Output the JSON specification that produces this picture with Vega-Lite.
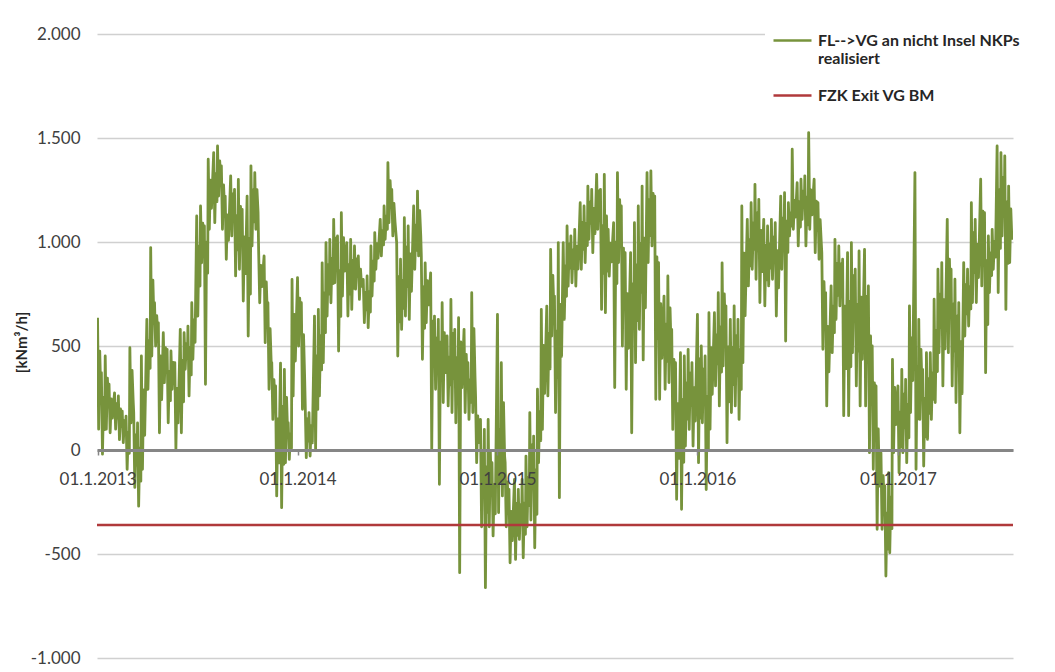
{
  "$schema": "https://vega.github.io/schema/vega-lite/v6.json",
  "width": 916,
  "height": 624,
  "autosize": {"type": "none"},
  "padding": {"left": 97, "top": 34, "right": 42, "bottom": 14},
  "background": "white",
  "datasets": {
    "flow": [
      {"d":"2013-01-01","v":636},{"d":"2013-01-03","v":100},{"d":"2013-01-05","v":475},{"d":"2013-01-07","v":261},{"d":"2013-01-08","v":372},{"d":"2013-01-10","v":-20},{"d":"2013-01-12","v":254},{"d":"2013-01-14","v":98},{"d":"2013-01-15","v":452},{"d":"2013-01-17","v":100},{"d":"2013-01-19","v":346},{"d":"2013-01-21","v":206},{"d":"2013-01-22","v":316},{"d":"2013-01-24","v":83},{"d":"2013-01-26","v":246},{"d":"2013-01-28","v":153},
      {"d":"2013-02-01","v":275},{"d":"2013-02-03","v":100},{"d":"2013-02-05","v":223},{"d":"2013-02-07","v":153},{"d":"2013-02-08","v":260},{"d":"2013-02-10","v":50},{"d":"2013-02-12","v":197},{"d":"2013-02-14","v":113},{"d":"2013-02-15","v":187},{"d":"2013-02-17","v":35},{"d":"2013-02-19","v":141},{"d":"2013-02-21","v":81},{"d":"2013-02-22","v":163},{"d":"2013-02-24","v":-93},{"d":"2013-02-26","v":86},{"d":"2013-02-28","v":-16},
      {"d":"2013-03-01","v":492},{"d":"2013-03-03","v":130},{"d":"2013-03-05","v":383},{"d":"2013-03-07","v":239},{"d":"2013-03-08","v":180},{"d":"2013-03-10","v":-180},{"d":"2013-03-12","v":72},{"d":"2013-03-14","v":-72},{"d":"2013-03-15","v":130},{"d":"2013-03-17","v":-270},{"d":"2013-03-19","v":10},{"d":"2013-03-21","v":-150},{"d":"2013-03-22","v":452},{"d":"2013-03-24","v":-93},{"d":"2013-03-26","v":289},{"d":"2013-03-28","v":71},
      {"d":"2013-04-01","v":628},{"d":"2013-04-03","v":292},{"d":"2013-04-05","v":527},{"d":"2013-04-07","v":393},{"d":"2013-04-08","v":973},{"d":"2013-04-10","v":452},{"d":"2013-04-12","v":817},{"d":"2013-04-14","v":608},{"d":"2013-04-15","v":708},{"d":"2013-04-17","v":500},{"d":"2013-04-19","v":646},{"d":"2013-04-21","v":562},{"d":"2013-04-22","v":612},{"d":"2013-04-24","v":83},{"d":"2013-04-26","v":453},{"d":"2013-04-28","v":242},
      {"d":"2013-05-01","v":564},{"d":"2013-05-03","v":324},{"d":"2013-05-05","v":492},{"d":"2013-05-07","v":396},{"d":"2013-05-08","v":484},{"d":"2013-05-10","v":131},{"d":"2013-05-12","v":378},{"d":"2013-05-14","v":237},{"d":"2013-05-15","v":476},{"d":"2013-05-17","v":292},{"d":"2013-05-19","v":421},{"d":"2013-05-21","v":347},{"d":"2013-05-22","v":420},{"d":"2013-05-24","v":6},{"d":"2013-05-26","v":296},{"d":"2013-05-28","v":130},
      {"d":"2013-06-01","v":580},{"d":"2013-06-03","v":83},{"d":"2013-06-05","v":431},{"d":"2013-06-07","v":232},{"d":"2013-06-08","v":564},{"d":"2013-06-10","v":388},{"d":"2013-06-12","v":511},{"d":"2013-06-14","v":441},{"d":"2013-06-15","v":596},{"d":"2013-06-17","v":260},{"d":"2013-06-19","v":495},{"d":"2013-06-21","v":361},{"d":"2013-06-22","v":708},{"d":"2013-06-24","v":436},{"d":"2013-06-26","v":626},{"d":"2013-06-28","v":518},
      {"d":"2013-07-01","v":1125},{"d":"2013-07-03","v":644},{"d":"2013-07-05","v":981},{"d":"2013-07-07","v":788},{"d":"2013-07-08","v":1173},{"d":"2013-07-10","v":900},{"d":"2013-07-12","v":1091},{"d":"2013-07-14","v":982},{"d":"2013-07-15","v":1077},{"d":"2013-07-17","v":316},{"d":"2013-07-19","v":1000},{"d":"2013-07-21","v":850},{"d":"2013-07-22","v":1398},{"d":"2013-07-24","v":1061},{"d":"2013-07-26","v":1297},{"d":"2013-07-28","v":1162},
      {"d":"2013-08-01","v":1430},{"d":"2013-08-03","v":1093},{"d":"2013-08-05","v":1329},{"d":"2013-08-07","v":1194},{"d":"2013-08-08","v":1462},{"d":"2013-08-10","v":1221},{"d":"2013-08-12","v":1390},{"d":"2013-08-14","v":1293},{"d":"2013-08-15","v":1366},{"d":"2013-08-17","v":1061},{"d":"2013-08-19","v":1275},{"d":"2013-08-21","v":1153},{"d":"2013-08-22","v":1221},{"d":"2013-08-24","v":917},{"d":"2013-08-26","v":1130},{"d":"2013-08-28","v":1008},
      {"d":"2013-09-01","v":1318},{"d":"2013-09-03","v":1029},{"d":"2013-09-05","v":1231},{"d":"2013-09-07","v":1116},{"d":"2013-09-08","v":1253},{"d":"2013-09-10","v":837},{"d":"2013-09-12","v":1128},{"d":"2013-09-14","v":962},{"d":"2013-09-15","v":1301},{"d":"2013-09-17","v":869},{"d":"2013-09-19","v":1171},{"d":"2013-09-21","v":999},{"d":"2013-09-22","v":1157},{"d":"2013-09-24","v":716},{"d":"2013-09-26","v":1025},{"d":"2013-09-28","v":848},
      {"d":"2013-10-01","v":1221},{"d":"2013-10-03","v":548},{"d":"2013-10-05","v":1019},{"d":"2013-10-07","v":750},{"d":"2013-10-08","v":1366},{"d":"2013-10-10","v":981},{"d":"2013-10-12","v":1250},{"d":"2013-10-14","v":1097},{"d":"2013-10-15","v":1334},{"d":"2013-10-17","v":1061},{"d":"2013-10-19","v":1252},{"d":"2013-10-21","v":1143},{"d":"2013-10-22","v":965},{"d":"2013-10-24","v":708},{"d":"2013-10-26","v":888},{"d":"2013-10-28","v":785},
      {"d":"2013-11-01","v":933},{"d":"2013-11-03","v":516},{"d":"2013-11-05","v":808},{"d":"2013-11-07","v":641},{"d":"2013-11-08","v":708},{"d":"2013-11-10","v":292},{"d":"2013-11-12","v":583},{"d":"2013-11-14","v":417},{"d":"2013-11-15","v":420},{"d":"2013-11-17","v":147},{"d":"2013-11-19","v":338},{"d":"2013-11-21","v":229},{"d":"2013-11-22","v":308},{"d":"2013-11-24","v":-221},{"d":"2013-11-26","v":149},{"d":"2013-11-28","v":-62},
      {"d":"2013-12-01","v":418},{"d":"2013-12-03","v":-277},{"d":"2013-12-05","v":210},{"d":"2013-12-07","v":-69},{"d":"2013-12-08","v":388},{"d":"2013-12-10","v":-61},{"d":"2013-12-12","v":253},{"d":"2013-12-14","v":74},{"d":"2013-12-15","v":131},{"d":"2013-12-17","v":-45},{"d":"2013-12-19","v":78},{"d":"2013-12-21","v":8},{"d":"2013-12-22","v":820},{"d":"2013-12-24","v":260},{"d":"2013-12-26","v":652},{"d":"2013-12-28","v":428},
      {"d":"2014-01-01","v":829},{"d":"2014-01-03","v":500},{"d":"2014-01-05","v":730},{"d":"2014-01-07","v":599},{"d":"2014-01-08","v":708},{"d":"2014-01-10","v":196},{"d":"2014-01-12","v":554},{"d":"2014-01-14","v":350},{"d":"2014-01-15","v":228},{"d":"2014-01-17","v":-37},{"d":"2014-01-19","v":149},{"d":"2014-01-21","v":43},{"d":"2014-01-22","v":180},{"d":"2014-01-24","v":-29},{"d":"2014-01-26","v":117},{"d":"2014-01-28","v":34},
      {"d":"2014-02-01","v":644},{"d":"2014-02-03","v":3},{"d":"2014-02-05","v":452},{"d":"2014-02-07","v":195},{"d":"2014-02-08","v":676},{"d":"2014-02-10","v":260},{"d":"2014-02-12","v":551},{"d":"2014-02-14","v":385},{"d":"2014-02-15","v":900},{"d":"2014-02-17","v":420},{"d":"2014-02-19","v":756},{"d":"2014-02-21","v":564},{"d":"2014-02-22","v":997},{"d":"2014-02-24","v":644},{"d":"2014-02-26","v":891},{"d":"2014-02-28","v":750},
      {"d":"2014-03-01","v":1013},{"d":"2014-03-03","v":708},{"d":"2014-03-05","v":922},{"d":"2014-03-07","v":800},{"d":"2014-03-08","v":1109},{"d":"2014-03-10","v":804},{"d":"2014-03-12","v":1018},{"d":"2014-03-14","v":896},{"d":"2014-03-15","v":1029},{"d":"2014-03-17","v":476},{"d":"2014-03-19","v":863},{"d":"2014-03-21","v":642},{"d":"2014-03-22","v":1141},{"d":"2014-03-24","v":740},{"d":"2014-03-26","v":1021},{"d":"2014-03-28","v":860},
      {"d":"2014-04-01","v":997},{"d":"2014-04-03","v":644},{"d":"2014-04-05","v":891},{"d":"2014-04-07","v":750},{"d":"2014-04-08","v":1013},{"d":"2014-04-10","v":676},{"d":"2014-04-12","v":912},{"d":"2014-04-14","v":777},{"d":"2014-04-15","v":981},{"d":"2014-04-17","v":773},{"d":"2014-04-19","v":919},{"d":"2014-04-21","v":835},{"d":"2014-04-22","v":933},{"d":"2014-04-24","v":724},{"d":"2014-04-26","v":870},{"d":"2014-04-28","v":787},
      {"d":"2014-05-01","v":820},{"d":"2014-05-03","v":612},{"d":"2014-05-05","v":758},{"d":"2014-05-07","v":674},{"d":"2014-05-08","v":837},{"d":"2014-05-10","v":588},{"d":"2014-05-12","v":762},{"d":"2014-05-14","v":663},{"d":"2014-05-15","v":981},{"d":"2014-05-17","v":740},{"d":"2014-05-19","v":909},{"d":"2014-05-21","v":812},{"d":"2014-05-22","v":1045},{"d":"2014-05-24","v":869},{"d":"2014-05-26","v":992},{"d":"2014-05-28","v":922},
      {"d":"2014-06-01","v":1109},{"d":"2014-06-03","v":933},{"d":"2014-06-05","v":1056},{"d":"2014-06-07","v":986},{"d":"2014-06-08","v":1173},{"d":"2014-06-10","v":1013},{"d":"2014-06-12","v":1125},{"d":"2014-06-14","v":1061},{"d":"2014-06-15","v":1382},{"d":"2014-06-17","v":1093},{"d":"2014-06-19","v":1295},{"d":"2014-06-21","v":1180},{"d":"2014-06-22","v":1253},{"d":"2014-06-24","v":1029},{"d":"2014-06-26","v":1186},{"d":"2014-06-28","v":1096},
      {"d":"2014-07-01","v":997},{"d":"2014-07-03","v":452},{"d":"2014-07-05","v":834},{"d":"2014-07-07","v":616},{"d":"2014-07-08","v":917},{"d":"2014-07-10","v":580},{"d":"2014-07-12","v":816},{"d":"2014-07-14","v":681},{"d":"2014-07-15","v":1117},{"d":"2014-07-17","v":644},{"d":"2014-07-19","v":975},{"d":"2014-07-21","v":786},{"d":"2014-07-22","v":1077},{"d":"2014-07-24","v":628},{"d":"2014-07-26","v":943},{"d":"2014-07-28","v":763},
      {"d":"2014-08-01","v":1173},{"d":"2014-08-03","v":869},{"d":"2014-08-05","v":1082},{"d":"2014-08-07","v":960},{"d":"2014-08-08","v":1245},{"d":"2014-08-10","v":933},{"d":"2014-08-12","v":1151},{"d":"2014-08-14","v":1027},{"d":"2014-08-15","v":933},{"d":"2014-08-17","v":436},{"d":"2014-08-19","v":784},{"d":"2014-08-21","v":585},{"d":"2014-08-22","v":900},{"d":"2014-08-24","v":612},{"d":"2014-08-26","v":814},{"d":"2014-08-28","v":698},
      {"d":"2014-09-01","v":852},{"d":"2014-09-03","v":3},{"d":"2014-09-05","v":620},{"d":"2014-09-07","v":420},{"d":"2014-09-08","v":644},{"d":"2014-09-10","v":292},{"d":"2014-09-12","v":538},{"d":"2014-09-14","v":398},{"d":"2014-09-15","v":628},{"d":"2014-09-17","v":-165},{"d":"2014-09-19","v":520},{"d":"2014-09-21","v":350},{"d":"2014-09-22","v":708},{"d":"2014-09-24","v":228},{"d":"2014-09-26","v":564},{"d":"2014-09-28","v":372},
      {"d":"2014-10-01","v":548},{"d":"2014-10-03","v":212},{"d":"2014-10-05","v":447},{"d":"2014-10-07","v":313},{"d":"2014-10-08","v":724},{"d":"2014-10-10","v":180},{"d":"2014-10-12","v":561},{"d":"2014-10-14","v":343},{"d":"2014-10-15","v":580},{"d":"2014-10-17","v":131},{"d":"2014-10-19","v":445},{"d":"2014-10-21","v":266},{"d":"2014-10-22","v":636},{"d":"2014-10-24","v":-590},{"d":"2014-10-26","v":520},{"d":"2014-10-28","v":300},
      {"d":"2014-11-01","v":580},{"d":"2014-11-03","v":180},{"d":"2014-11-05","v":460},{"d":"2014-11-07","v":300},{"d":"2014-11-08","v":420},{"d":"2014-11-10","v":147},{"d":"2014-11-12","v":338},{"d":"2014-11-14","v":229},{"d":"2014-11-15","v":756},{"d":"2014-11-17","v":180},{"d":"2014-11-19","v":583},{"d":"2014-11-21","v":353},{"d":"2014-11-22","v":260},{"d":"2014-11-24","v":-61},{"d":"2014-11-26","v":164},{"d":"2014-11-28","v":35},
      {"d":"2014-12-01","v":147},{"d":"2014-12-03","v":-369},{"d":"2014-12-05","v":-8},{"d":"2014-12-07","v":-214},{"d":"2014-12-08","v":99},{"d":"2014-12-10","v":-662},{"d":"2014-12-12","v":-80},{"d":"2014-12-14","v":-300},{"d":"2014-12-15","v":147},{"d":"2014-12-17","v":-369},{"d":"2014-12-19","v":-8},{"d":"2014-12-21","v":-214},{"d":"2014-12-22","v":-61},{"d":"2014-12-24","v":-413},{"d":"2014-12-26","v":-167},{"d":"2014-12-28","v":-307},
      {"d":"2015-01-01","v":652},{"d":"2015-01-03","v":-301},{"d":"2015-01-05","v":100},{"d":"2015-01-07","v":-150},{"d":"2015-01-08","v":420},{"d":"2015-01-10","v":-221},{"d":"2015-01-12","v":228},{"d":"2015-01-14","v":-29},{"d":"2015-01-15","v":-61},{"d":"2015-01-17","v":-369},{"d":"2015-01-19","v":-153},{"d":"2015-01-21","v":-277},{"d":"2015-01-22","v":-189},{"d":"2015-01-24","v":-542},{"d":"2015-01-26","v":-295},{"d":"2015-01-28","v":-436},
      {"d":"2015-02-01","v":-141},{"d":"2015-02-03","v":-526},{"d":"2015-02-05","v":-257},{"d":"2015-02-07","v":-410},{"d":"2015-02-08","v":-189},{"d":"2015-02-10","v":-430},{"d":"2015-02-12","v":-261},{"d":"2015-02-14","v":-358},{"d":"2015-02-15","v":-141},{"d":"2015-02-17","v":-518},{"d":"2015-02-19","v":-254},{"d":"2015-02-21","v":-405},{"d":"2015-02-22","v":-29},{"d":"2015-02-24","v":-369},{"d":"2015-02-26","v":-131},{"d":"2015-02-28","v":-267},
      {"d":"2015-03-01","v":180},{"d":"2015-03-03","v":-337},{"d":"2015-03-05","v":25},{"d":"2015-03-07","v":-182},{"d":"2015-03-08","v":67},{"d":"2015-03-10","v":-470},{"d":"2015-03-12","v":-94},{"d":"2015-03-14","v":-309},{"d":"2015-03-15","v":292},{"d":"2015-03-17","v":-61},{"d":"2015-03-19","v":186},{"d":"2015-03-21","v":45},{"d":"2015-03-22","v":676},{"d":"2015-03-24","v":99},{"d":"2015-03-26","v":503},{"d":"2015-03-28","v":272},
      {"d":"2015-04-01","v":692},{"d":"2015-04-03","v":260},{"d":"2015-04-05","v":562},{"d":"2015-04-07","v":390},{"d":"2015-04-08","v":965},{"d":"2015-04-10","v":548},{"d":"2015-04-12","v":840},{"d":"2015-04-14","v":673},{"d":"2015-04-15","v":740},{"d":"2015-04-17","v":180},{"d":"2015-04-19","v":572},{"d":"2015-04-21","v":348},{"d":"2015-04-22","v":997},{"d":"2015-04-24","v":-229},{"d":"2015-04-26","v":700},{"d":"2015-04-28","v":450},
      {"d":"2015-05-01","v":997},{"d":"2015-05-03","v":628},{"d":"2015-05-05","v":886},{"d":"2015-05-07","v":739},{"d":"2015-05-08","v":1077},{"d":"2015-05-10","v":788},{"d":"2015-05-12","v":990},{"d":"2015-05-14","v":875},{"d":"2015-05-15","v":1029},{"d":"2015-05-17","v":804},{"d":"2015-05-19","v":962},{"d":"2015-05-21","v":872},{"d":"2015-05-22","v":1061},{"d":"2015-05-24","v":788},{"d":"2015-05-26","v":979},{"d":"2015-05-28","v":870},
      {"d":"2015-06-01","v":1189},{"d":"2015-06-03","v":869},{"d":"2015-06-05","v":1093},{"d":"2015-06-07","v":965},{"d":"2015-06-08","v":1173},{"d":"2015-06-10","v":901},{"d":"2015-06-12","v":1091},{"d":"2015-06-14","v":983},{"d":"2015-06-15","v":1269},{"d":"2015-06-17","v":1013},{"d":"2015-06-19","v":1192},{"d":"2015-06-21","v":1090},{"d":"2015-06-22","v":1253},{"d":"2015-06-24","v":949},{"d":"2015-06-26","v":1162},{"d":"2015-06-28","v":1040},
      {"d":"2015-07-01","v":1325},{"d":"2015-07-03","v":1061},{"d":"2015-07-05","v":1246},{"d":"2015-07-07","v":1140},{"d":"2015-07-08","v":1253},{"d":"2015-07-10","v":676},{"d":"2015-07-12","v":1080},{"d":"2015-07-14","v":849},{"d":"2015-07-15","v":1325},{"d":"2015-07-17","v":660},{"d":"2015-07-19","v":1125},{"d":"2015-07-21","v":860},{"d":"2015-07-22","v":1061},{"d":"2015-07-24","v":836},{"d":"2015-07-26","v":994},{"d":"2015-07-28","v":904},
      {"d":"2015-08-01","v":1093},{"d":"2015-08-03","v":300},{"d":"2015-08-05","v":1000},{"d":"2015-08-07","v":800},{"d":"2015-08-08","v":1334},{"d":"2015-08-10","v":901},{"d":"2015-08-12","v":1204},{"d":"2015-08-14","v":1031},{"d":"2015-08-15","v":1173},{"d":"2015-08-17","v":500},{"d":"2015-08-19","v":971},{"d":"2015-08-21","v":702},{"d":"2015-08-22","v":949},{"d":"2015-08-24","v":292},{"d":"2015-08-26","v":752},{"d":"2015-08-28","v":489},
      {"d":"2015-09-01","v":949},{"d":"2015-09-03","v":83},{"d":"2015-09-05","v":800},{"d":"2015-09-07","v":600},{"d":"2015-09-08","v":1093},{"d":"2015-09-10","v":420},{"d":"2015-09-12","v":891},{"d":"2015-09-14","v":622},{"d":"2015-09-15","v":1173},{"d":"2015-09-17","v":580},{"d":"2015-09-19","v":995},{"d":"2015-09-21","v":758},{"d":"2015-09-22","v":1269},{"d":"2015-09-24","v":433},{"d":"2015-09-26","v":1018},{"d":"2015-09-28","v":684},
      {"d":"2015-10-01","v":1334},{"d":"2015-10-03","v":901},{"d":"2015-10-05","v":1204},{"d":"2015-10-07","v":1031},{"d":"2015-10-08","v":1342},{"d":"2015-10-10","v":981},{"d":"2015-10-12","v":1234},{"d":"2015-10-14","v":1089},{"d":"2015-10-15","v":1221},{"d":"2015-10-17","v":244},{"d":"2015-10-19","v":928},{"d":"2015-10-21","v":537},{"d":"2015-10-22","v":901},{"d":"2015-10-24","v":244},{"d":"2015-10-26","v":704},{"d":"2015-10-28","v":441},
      {"d":"2015-11-01","v":740},{"d":"2015-11-03","v":292},{"d":"2015-11-05","v":606},{"d":"2015-11-07","v":426},{"d":"2015-11-08","v":837},{"d":"2015-11-10","v":324},{"d":"2015-11-12","v":683},{"d":"2015-11-14","v":478},{"d":"2015-11-15","v":580},{"d":"2015-11-17","v":99},{"d":"2015-11-19","v":436},{"d":"2015-11-21","v":243},{"d":"2015-11-22","v":420},{"d":"2015-11-24","v":-237},{"d":"2015-11-26","v":223},{"d":"2015-11-28","v":-40},
      {"d":"2015-12-01","v":468},{"d":"2015-12-03","v":-285},{"d":"2015-12-05","v":242},{"d":"2015-12-07","v":-59},{"d":"2015-12-08","v":452},{"d":"2015-12-10","v":19},{"d":"2015-12-12","v":322},{"d":"2015-12-14","v":149},{"d":"2015-12-15","v":484},{"d":"2015-12-17","v":99},{"d":"2015-12-19","v":369},{"d":"2015-12-21","v":215},{"d":"2015-12-22","v":420},{"d":"2015-12-24","v":19},{"d":"2015-12-26","v":300},{"d":"2015-12-28","v":139},
      {"d":"2016-01-01","v":652},{"d":"2016-01-03","v":-61},{"d":"2016-01-05","v":438},{"d":"2016-01-07","v":153},{"d":"2016-01-08","v":500},{"d":"2016-01-10","v":131},{"d":"2016-01-12","v":389},{"d":"2016-01-14","v":242},{"d":"2016-01-15","v":452},{"d":"2016-01-17","v":-190},{"d":"2016-01-19","v":259},{"d":"2016-01-21","v":3},{"d":"2016-01-22","v":660},{"d":"2016-01-24","v":100},{"d":"2016-01-26","v":492},{"d":"2016-01-28","v":268},
      {"d":"2016-02-01","v":660},{"d":"2016-02-03","v":308},{"d":"2016-02-05","v":554},{"d":"2016-02-07","v":414},{"d":"2016-02-08","v":756},{"d":"2016-02-10","v":212},{"d":"2016-02-12","v":593},{"d":"2016-02-14","v":375},{"d":"2016-02-15","v":900},{"d":"2016-02-17","v":404},{"d":"2016-02-19","v":751},{"d":"2016-02-21","v":553},{"d":"2016-02-22","v":693},{"d":"2016-02-24","v":35},{"d":"2016-02-26","v":496},{"d":"2016-02-28","v":232},
      {"d":"2016-03-01","v":628},{"d":"2016-03-03","v":180},{"d":"2016-03-05","v":494},{"d":"2016-03-07","v":314},{"d":"2016-03-08","v":693},{"d":"2016-03-10","v":212},{"d":"2016-03-12","v":549},{"d":"2016-03-14","v":356},{"d":"2016-03-15","v":628},{"d":"2016-03-17","v":147},{"d":"2016-03-19","v":484},{"d":"2016-03-21","v":291},{"d":"2016-03-22","v":1173},{"d":"2016-03-24","v":420},{"d":"2016-03-26","v":946},{"d":"2016-03-28","v":646},
      {"d":"2016-04-01","v":1109},{"d":"2016-04-03","v":789},{"d":"2016-04-05","v":1013},{"d":"2016-04-07","v":885},{"d":"2016-04-08","v":1189},{"d":"2016-04-10","v":869},{"d":"2016-04-12","v":1093},{"d":"2016-04-14","v":965},{"d":"2016-04-15","v":1277},{"d":"2016-04-17","v":821},{"d":"2016-04-19","v":1140},{"d":"2016-04-21","v":958},{"d":"2016-04-22","v":1205},{"d":"2016-04-24","v":709},{"d":"2016-04-26","v":1056},{"d":"2016-04-28","v":858},
      {"d":"2016-05-01","v":1109},{"d":"2016-05-03","v":693},{"d":"2016-05-05","v":984},{"d":"2016-05-07","v":818},{"d":"2016-05-08","v":1077},{"d":"2016-05-10","v":789},{"d":"2016-05-12","v":991},{"d":"2016-05-14","v":875},{"d":"2016-05-15","v":1109},{"d":"2016-05-17","v":821},{"d":"2016-05-19","v":1023},{"d":"2016-05-21","v":907},{"d":"2016-05-22","v":1093},{"d":"2016-05-24","v":644},{"d":"2016-05-26","v":958},{"d":"2016-05-28","v":779},
      {"d":"2016-06-01","v":1221},{"d":"2016-06-03","v":869},{"d":"2016-06-05","v":1115},{"d":"2016-06-07","v":975},{"d":"2016-06-08","v":1237},{"d":"2016-06-10","v":524},{"d":"2016-06-12","v":1100},{"d":"2016-06-14","v":950},{"d":"2016-06-15","v":1189},{"d":"2016-06-17","v":1029},{"d":"2016-06-19","v":1141},{"d":"2016-06-21","v":1077},{"d":"2016-06-22","v":1446},{"d":"2016-06-24","v":1061},{"d":"2016-06-26","v":1200},{"d":"2016-06-28","v":1120},
      {"d":"2016-07-01","v":1285},{"d":"2016-07-03","v":981},{"d":"2016-07-05","v":1194},{"d":"2016-07-07","v":1072},{"d":"2016-07-08","v":1302},{"d":"2016-07-10","v":1109},{"d":"2016-07-12","v":1244},{"d":"2016-07-14","v":1167},{"d":"2016-07-15","v":1318},{"d":"2016-07-17","v":981},{"d":"2016-07-19","v":1217},{"d":"2016-07-21","v":1082},{"d":"2016-07-22","v":1526},{"d":"2016-07-24","v":1061},{"d":"2016-07-26","v":1250},{"d":"2016-07-28","v":1130},
      {"d":"2016-08-01","v":1302},{"d":"2016-08-03","v":949},{"d":"2016-08-05","v":1196},{"d":"2016-08-07","v":1055},{"d":"2016-08-08","v":1189},{"d":"2016-08-10","v":917},{"d":"2016-08-12","v":1107},{"d":"2016-08-14","v":999},{"d":"2016-08-15","v":949},{"d":"2016-08-17","v":484},{"d":"2016-08-19","v":809},{"d":"2016-08-21","v":624},{"d":"2016-08-22","v":757},{"d":"2016-08-24","v":212},{"d":"2016-08-26","v":594},{"d":"2016-08-28","v":376},
      {"d":"2016-09-01","v":789},{"d":"2016-09-03","v":468},{"d":"2016-09-05","v":693},{"d":"2016-09-07","v":564},{"d":"2016-09-08","v":1013},{"d":"2016-09-10","v":628},{"d":"2016-09-12","v":897},{"d":"2016-09-14","v":744},{"d":"2016-09-15","v":981},{"d":"2016-09-17","v":693},{"d":"2016-09-19","v":895},{"d":"2016-09-21","v":779},{"d":"2016-09-22","v":917},{"d":"2016-09-24","v":165},{"d":"2016-09-26","v":691},{"d":"2016-09-28","v":391},
      {"d":"2016-10-01","v":949},{"d":"2016-10-03","v":165},{"d":"2016-10-05","v":714},{"d":"2016-10-07","v":400},{"d":"2016-10-08","v":997},{"d":"2016-10-10","v":468},{"d":"2016-10-12","v":838},{"d":"2016-10-14","v":627},{"d":"2016-10-15","v":869},{"d":"2016-10-17","v":308},{"d":"2016-10-19","v":701},{"d":"2016-10-21","v":476},{"d":"2016-10-22","v":957},{"d":"2016-10-24","v":212},{"d":"2016-10-26","v":735},{"d":"2016-10-28","v":436},
      {"d":"2016-11-01","v":965},{"d":"2016-11-03","v":212},{"d":"2016-11-05","v":738},{"d":"2016-11-07","v":438},{"d":"2016-11-08","v":789},{"d":"2016-11-10","v":-13},{"d":"2016-11-12","v":548},{"d":"2016-11-14","v":228},{"d":"2016-11-15","v":500},{"d":"2016-11-17","v":-93},{"d":"2016-11-19","v":322},{"d":"2016-11-21","v":85},{"d":"2016-11-22","v":308},{"d":"2016-11-24","v":-381},{"d":"2016-11-26","v":101},{"d":"2016-11-28","v":-174},
      {"d":"2016-12-01","v":-13},{"d":"2016-12-03","v":-381},{"d":"2016-12-05","v":-123},{"d":"2016-12-07","v":-271},{"d":"2016-12-08","v":-173},{"d":"2016-12-10","v":-606},{"d":"2016-12-12","v":-303},{"d":"2016-12-14","v":-476},{"d":"2016-12-15","v":-109},{"d":"2016-12-17","v":-494},{"d":"2016-12-19","v":-225},{"d":"2016-12-21","v":-378},{"d":"2016-12-22","v":436},{"d":"2016-12-24","v":-13},{"d":"2016-12-26","v":301},{"d":"2016-12-28","v":122},
      {"d":"2017-01-01","v":308},{"d":"2017-01-03","v":-109},{"d":"2017-01-05","v":183},{"d":"2017-01-07","v":16},{"d":"2017-01-08","v":388},{"d":"2017-01-10","v":-13},{"d":"2017-01-12","v":268},{"d":"2017-01-14","v":107},{"d":"2017-01-15","v":340},{"d":"2017-01-17","v":-61},{"d":"2017-01-19","v":220},{"d":"2017-01-21","v":59},{"d":"2017-01-22","v":693},{"d":"2017-01-24","v":180},{"d":"2017-01-26","v":539},{"d":"2017-01-28","v":334},
      {"d":"2017-02-01","v":1334},{"d":"2017-02-03","v":-93},{"d":"2017-02-05","v":400},{"d":"2017-02-07","v":150},{"d":"2017-02-08","v":628},{"d":"2017-02-10","v":147},{"d":"2017-02-12","v":484},{"d":"2017-02-14","v":291},{"d":"2017-02-15","v":388},{"d":"2017-02-17","v":-77},{"d":"2017-02-19","v":249},{"d":"2017-02-21","v":63},{"d":"2017-02-22","v":468},{"d":"2017-02-24","v":51},{"d":"2017-02-26","v":343},{"d":"2017-02-28","v":176},
      {"d":"2017-03-01","v":468},{"d":"2017-03-03","v":147},{"d":"2017-03-05","v":372},{"d":"2017-03-07","v":243},{"d":"2017-03-08","v":725},{"d":"2017-03-10","v":228},{"d":"2017-03-12","v":576},{"d":"2017-03-14","v":377},{"d":"2017-03-15","v":869},{"d":"2017-03-17","v":468},{"d":"2017-03-19","v":749},{"d":"2017-03-21","v":588},{"d":"2017-03-22","v":901},{"d":"2017-03-24","v":308},{"d":"2017-03-26","v":723},{"d":"2017-03-28","v":486},
      {"d":"2017-04-01","v":1109},{"d":"2017-04-03","v":468},{"d":"2017-04-05","v":917},{"d":"2017-04-07","v":660},{"d":"2017-04-08","v":869},{"d":"2017-04-10","v":308},{"d":"2017-04-12","v":701},{"d":"2017-04-14","v":476},{"d":"2017-04-15","v":821},{"d":"2017-04-17","v":228},{"d":"2017-04-19","v":643},{"d":"2017-04-21","v":406},{"d":"2017-04-22","v":709},{"d":"2017-04-24","v":83},{"d":"2017-04-26","v":521},{"d":"2017-04-28","v":271},
      {"d":"2017-05-01","v":901},{"d":"2017-05-03","v":548},{"d":"2017-05-05","v":795},{"d":"2017-05-07","v":654},{"d":"2017-05-08","v":869},{"d":"2017-05-10","v":596},{"d":"2017-05-12","v":787},{"d":"2017-05-14","v":678},{"d":"2017-05-15","v":1189},{"d":"2017-05-17","v":709},{"d":"2017-05-19","v":1045},{"d":"2017-05-21","v":853},{"d":"2017-05-22","v":1109},{"d":"2017-05-24","v":709},{"d":"2017-05-26","v":989},{"d":"2017-05-28","v":829},
      {"d":"2017-06-01","v":1302},{"d":"2017-06-03","v":789},{"d":"2017-06-05","v":1148},{"d":"2017-06-07","v":943},{"d":"2017-06-08","v":1141},{"d":"2017-06-10","v":372},{"d":"2017-06-12","v":910},{"d":"2017-06-14","v":603},{"d":"2017-06-15","v":1029},{"d":"2017-06-17","v":757},{"d":"2017-06-19","v":947},{"d":"2017-06-21","v":839},{"d":"2017-06-22","v":1061},{"d":"2017-06-24","v":869},{"d":"2017-06-26","v":1003},{"d":"2017-06-28","v":927},
      {"d":"2017-07-01","v":1462},{"d":"2017-07-03","v":757},{"d":"2017-07-05","v":1250},{"d":"2017-07-07","v":969},{"d":"2017-07-08","v":1430},{"d":"2017-07-10","v":1029},{"d":"2017-07-12","v":1310},{"d":"2017-07-14","v":1149},{"d":"2017-07-15","v":1414},{"d":"2017-07-17","v":676},{"d":"2017-07-19","v":1193},{"d":"2017-07-21","v":897},{"d":"2017-07-22","v":1269},{"d":"2017-07-24","v":901},{"d":"2017-07-26","v":1159},{"d":"2017-07-28","v":1011}
    ],
    "limit": [{"v": -360}]
  },
  "layer": [
    {
      "data": {"name": "flow"},
      "mark": {"type": "line", "strokeWidth": 2.8, "strokeJoin": "round", "clip": true},
      "encoding": {
        "x": {
          "field": "d",
          "type": "temporal",
          "scale": {
            "type": "utc",
            "domain": [
              {"year": 2012, "month": 12, "date": 31, "utc": true},
              {"year": 2017, "month": 7, "date": 30, "utc": true}
            ]
          },
          "axis": {
            "values": [
              {"year": 2013, "month": 1, "date": 1, "utc": true},
              {"year": 2014, "month": 1, "date": 1, "utc": true},
              {"year": 2015, "month": 1, "date": 1, "utc": true},
              {"year": 2016, "month": 1, "date": 1, "utc": true},
              {"year": 2017, "month": 1, "date": 1, "utc": true}
            ],
            "labelExpr": "utcFormat(datum.value, '%d.%-m.%Y')",
            "offset": -208,
            "zindex": 1,
            "grid": false,
            "domainColor": "#868686",
            "domainWidth": 3,
            "tickColor": "#868686",
            "tickSize": 5,
            "tickWidth": 1.5,
            "labelPadding": 16,
            "labelFont": "Lato",
            "labelFontSize": 17,
            "labelColor": "#404040",
            "labelAlign": "center",
            "labelOverlap": false,
            "labelFlush": false,
            "title": null
          }
        },
        "y": {
          "field": "v",
          "type": "quantitative",
          "scale": {"domain": [-1000, 2000], "nice": false, "zero": false},
          "axis": {
            "values": [-1000, -500, 0, 500, 1000, 1500, 2000],
            "labelExpr": "(datum.value < 0 ? '-' : '') + replace(format(abs(datum.value), ','), ',', '.')",
            "domain": false,
            "ticks": false,
            "tickSize": 0,
            "labelPadding": 17,
            "grid": true,
            "gridColor": "#d0d0d0",
            "gridWidth": 1.3,
            "labelFont": "Lato",
            "labelFontSize": 17,
            "labelColor": "#404040",
            "title": "[kNm³/h]",
            "titleFont": "Lato",
            "titleFontSize": 15,
            "titleFontWeight": "bold",
            "titleColor": "#262626",
            "titleAngle": -90,
            "titleX": -76,
            "titleY": 308,
            "titleAlign": "center",
            "titleBaseline": "middle"
          }
        },
        "color": {
          "datum": "FL-->VG an nicht Insel NKPs realisiert",
          "type": "nominal",
          "scale": {
            "domain": ["FL-->VG an nicht Insel NKPs realisiert", "FZK Exit VG BM"],
            "range": ["#77933C", "#B0393B"]
          },
          "legend": {
            "orient": "none",
            "legendX": 668,
            "legendY": -21,
            "title": null,
            "symbolType": "stroke",
            "symbolSize": 1444,
            "symbolStrokeWidth": 2.5,
            "labelFont": "Lato",
            "labelFontSize": 16,
            "labelFontWeight": "bold",
            "labelColor": "#262626",
            "labelOffset": 5,
            "labelLimit": 400,
            "fillColor": "white",
            "padding": 7,
            "rowPadding": 8,
            "labelExpr": "datum.label == 'FL-->VG an nicht Insel NKPs realisiert' ? ['FL-->VG an nicht Insel NKPs', 'realisiert'] : datum.label"
          }
        }
      }
    },
    {
      "data": {"name": "limit"},
      "mark": {"type": "rule", "strokeWidth": 2.5},
      "encoding": {
        "y": {"field": "v", "type": "quantitative", "title": "[kNm³/h]"},
        "color": {"datum": "FZK Exit VG BM", "type": "nominal"}
      }
    }
  ],
  "config": {
    "view": {"stroke": null},
    "font": "Lato"
  }
}
